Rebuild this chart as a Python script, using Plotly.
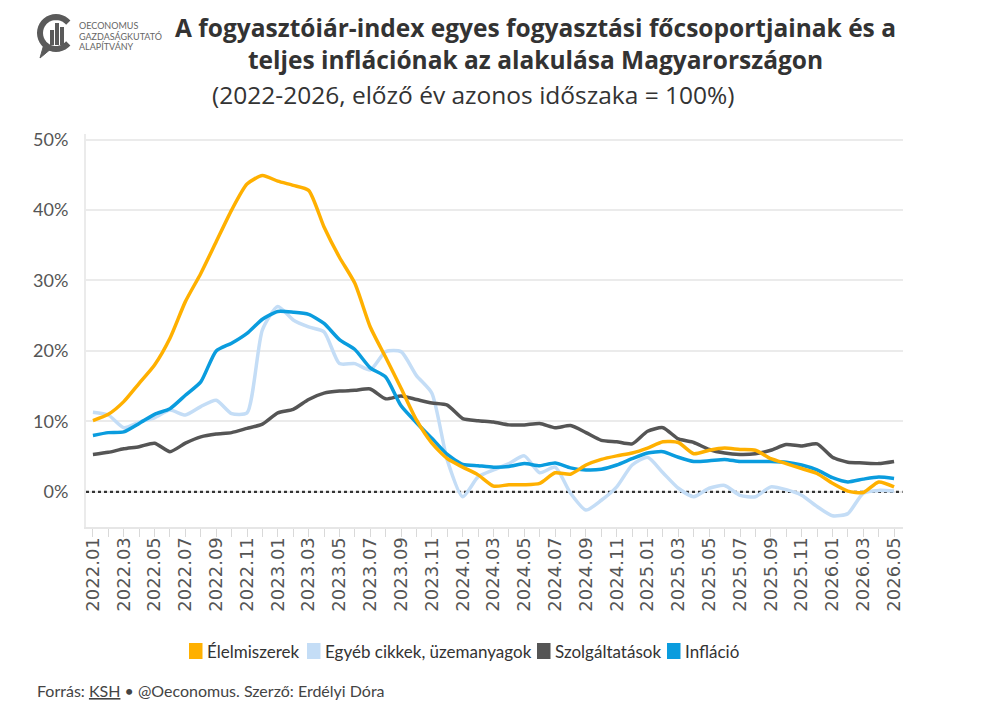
import math
import plotly.graph_objects as go

# ---------------- data ----------------
months = [f"{y}.{m:02d}" for y in range(2022, 2027) for m in range(1, 13)][:53]

food = [10.1, 11.0, 12.8, 15.4, 18.0, 21.8, 27.0, 31.0, 35.5, 40.0, 43.7, 44.9, 44.1,
        43.5, 42.8, 37.6, 33.3, 29.6, 23.4, 19.1, 14.7, 10.2, 6.9, 4.7, 3.5,
        2.4, 0.8, 1.0, 1.0, 1.2, 2.7, 2.5, 3.8, 4.6, 5.1, 5.5, 6.2, 7.1, 7.0,
        5.4, 5.9, 6.2, 6.0, 5.9, 4.7, 4.0, 3.3, 2.6, 1.2, 0.1, -0.1, 1.4, 0.7]

other = [11.3, 10.9, 9.1, 9.9, 10.5, 11.6, 10.9, 12.1, 13.0, 11.1, 11.2, 23.0, 26.3,
         24.4, 23.4, 22.7, 18.2, 18.2, 17.3, 19.9, 19.9, 16.5, 14.0, 4.5, -0.7,
         2.1, 3.1, 4.0, 5.1, 2.7, 3.5, -0.2, -2.6, -1.2, 0.7, 3.8, 4.9, 2.7, 0.5,
         -0.7, 0.5, 0.9, -0.5, -0.7, 0.7, 0.3, -0.5, -2.1, -3.4, -3.1, -0.2, 0.2, 0.1]

services = [5.3, 5.6, 6.1, 6.4, 6.9, 5.7, 6.9, 7.8, 8.2, 8.4, 9.0, 9.6, 11.2,
            11.7, 13.1, 14.0, 14.3, 14.4, 14.6, 13.2, 13.6, 13.1, 12.6, 12.3, 10.4,
            10.1, 9.9, 9.5, 9.5, 9.7, 9.1, 9.4, 8.4, 7.3, 7.1, 6.8, 8.6, 9.1, 7.5,
            7.0, 6.0, 5.5, 5.3, 5.4, 5.9, 6.7, 6.5, 6.8, 4.9, 4.2, 4.1, 4.0, 4.3]

inflation = [8.0, 8.4, 8.5, 9.7, 11.0, 11.8, 13.7, 15.6, 20.0, 21.1, 22.5, 24.5, 25.6,
             25.5, 25.2, 23.9, 21.6, 20.2, 17.6, 16.3, 12.2, 9.8, 7.6, 5.3, 3.9,
             3.7, 3.5, 3.6, 4.0, 3.7, 4.1, 3.4, 3.1, 3.2, 3.8, 4.7, 5.5, 5.7, 4.9,
             4.3, 4.4, 4.6, 4.3, 4.3, 4.3, 4.2, 3.8, 3.1, 2.0, 1.4, 1.8, 2.1, 1.9]

series_names = ["Élelmiszerek", "Egyéb cikkek, üzemanyagok", "Szolgáltatások", "Infláció"]
series_values = [food, other, services, inflation]
series_colors = ["#FFB000", "#C4DDF6", "#555555", "#0A9CDE"]

y_ticks = [0, 10, 20, 30, 40, 50]

# ---------------- figure ----------------
FONT = "Lato"
TFONT = "Open Sans"
W, H = 981, 704
L, R, T, B = 86, 78, 134, 177
Y_MIN, Y_MAX = -5, 50.8
pw, ph = W - L - R, H - T - B

def pp(px, py):
    return (px - L) / pw, (H - B - py) / ph

xs = list(range(len(months)))
fig = go.Figure()

# zero line (dotted)
fig.add_trace(go.Scatter(x=[xs[0] - 0.45, xs[-1] + 0.55], y=[0, 0], mode="lines",
                         line=dict(color="#333333", width=2.2, dash="dot"),
                         showlegend=False, hoverinfo="skip"))

for k in [1, 2, 3, 0]:
    fig.add_trace(go.Scatter(x=xs, y=series_values[k], mode="lines", name=series_names[k],
                             line=dict(color=series_colors[k], width=3.5, shape="spline",
                                       smoothing=0.6),
                             showlegend=False))

ticktext = [m if i % 2 == 0 else "" for i, m in enumerate(months)]

fig.update_layout(
    width=W, height=H,
    margin=dict(l=L, r=R, t=T, b=B),
    paper_bgcolor="white", plot_bgcolor="white",
    font=dict(family=FONT, color="#555555"),
    showlegend=False,
    xaxis=dict(range=[-0.45, len(months) - 1 + 0.58], tickmode="array",
               tickvals=xs, ticktext=ticktext, tickangle=-90,
               ticks="outside", ticklen=8, tickcolor="#D9D9D9", tickwidth=1,
               ticklabelstandoff=-7,
               tickfont=dict(family="DejaVu Sans", size=18, color="#555555"),
               showgrid=False, zeroline=False, showline=True, linecolor="#E6E6E6",
               linewidth=2),
    yaxis=dict(range=[Y_MIN, Y_MAX], tickmode="array", tickvals=y_ticks,
               ticktext=[f"{v}%" for v in y_ticks],
               ticks="outside", ticklen=12, tickcolor="rgba(0,0,0,0)",
               tickfont=dict(size=18, color="#555555"),
               showgrid=True, gridcolor="#EBEBEB", gridwidth=2,
               zeroline=False, showline=True, linecolor="#EBEBEB", linewidth=2),
)

# manual legend (colour swatches + labels)
legend_x = [190, 308, 538, 668]
for name, col, lx in zip(series_names, series_colors, legend_x):
    x0, y0 = pp(lx, 658)
    x1, y1 = pp(lx + 11.5, 644)
    fig.add_shape(type="rect", xref="paper", yref="paper", x0=x0, y0=y0, x1=x1, y1=y1,
                  fillcolor=col, line=dict(color=col, width=2))
    tx, ty = pp(lx + 15, 651)
    fig.add_annotation(xref="paper", yref="paper", x=tx, y=ty, xanchor="left",
                       yanchor="middle", showarrow=False, text=name,
                       font=dict(family=FONT, size=17, color="#333333"))

# title & subtitle
ax, ay = pp(535, 43)
fig.add_annotation(xref="paper", yref="paper", x=ax, y=ay, xanchor="center", yanchor="middle",
                   showarrow=False, align="center",
                   text="<b>A fogyasztóiár-index egyes fogyasztási főcsoportjainak és a<br>teljes inflációnak az alakulása Magyarországon</b>",
                   font=dict(family=TFONT, size=24.5, color="#333333"))
ax, ay = pp(473, 94)
fig.add_annotation(xref="paper", yref="paper", x=ax, y=ay, xanchor="center", yanchor="middle",
                   showarrow=False,
                   text="(2022-2026, előző év azonos időszaka = 100%)",
                   font=dict(family=TFONT, size=24.5, color="#333333"))

# footer
ax, ay = pp(35, 690)
fig.add_annotation(xref="paper", yref="paper", x=ax, y=ay, xanchor="left", yanchor="middle",
                   showarrow=False,
                   text="Forrás: <u>KSH</u> • @Oeconomus. Szerző: Erdélyi Dóra",
                   font=dict(family=FONT, size=16, color="#444444"))

# logo text
for txt, py in [("OECONOMUS", 25), ("GAZDASÁGKUTATÓ", 36), ("ALAPÍTVÁNY", 47)]:
    ax, ay = pp(77, py)
    fig.add_annotation(xref="paper", yref="paper", x=ax, y=ay, xanchor="left", yanchor="middle",
                       showarrow=False, text=txt,
                       font=dict(family=FONT, size=9, color="#666666"))

# logo icon: thick C-shaped arc with bars and a speech tail
cx, cy, r = 56, 33, 16
pts = []
for a in range(40, 330, 10):
    t = math.radians(a)
    pts.append(pp(cx + r * math.cos(t), cy - r * math.sin(t)))
path = "M " + " L ".join(f"{x:.5f},{y:.5f}" for x, y in pts)
fig.add_shape(type="path", xref="paper", yref="paper", path=path,
              line=dict(color="#5a5a5a", width=6))
tail = [pp(44, 44), pp(40, 58), pp(52, 48)]
fig.add_shape(type="path", xref="paper", yref="paper",
              path="M " + " L ".join(f"{x:.5f},{y:.5f}" for x, y in tail) + " Z",
              fillcolor="#5a5a5a", line=dict(color="#5a5a5a", width=1))
for bx, top in [(52, 30), (57, 23), (62, 27)]:
    x0, y0 = pp(bx - 2, 45)
    x1, y1 = pp(bx + 2, top)
    fig.add_shape(type="rect", xref="paper", yref="paper", x0=x0, y0=y0, x1=x1, y1=y1,
                  fillcolor="#5a5a5a", line=dict(width=0))

fig.write_html("out.html")
